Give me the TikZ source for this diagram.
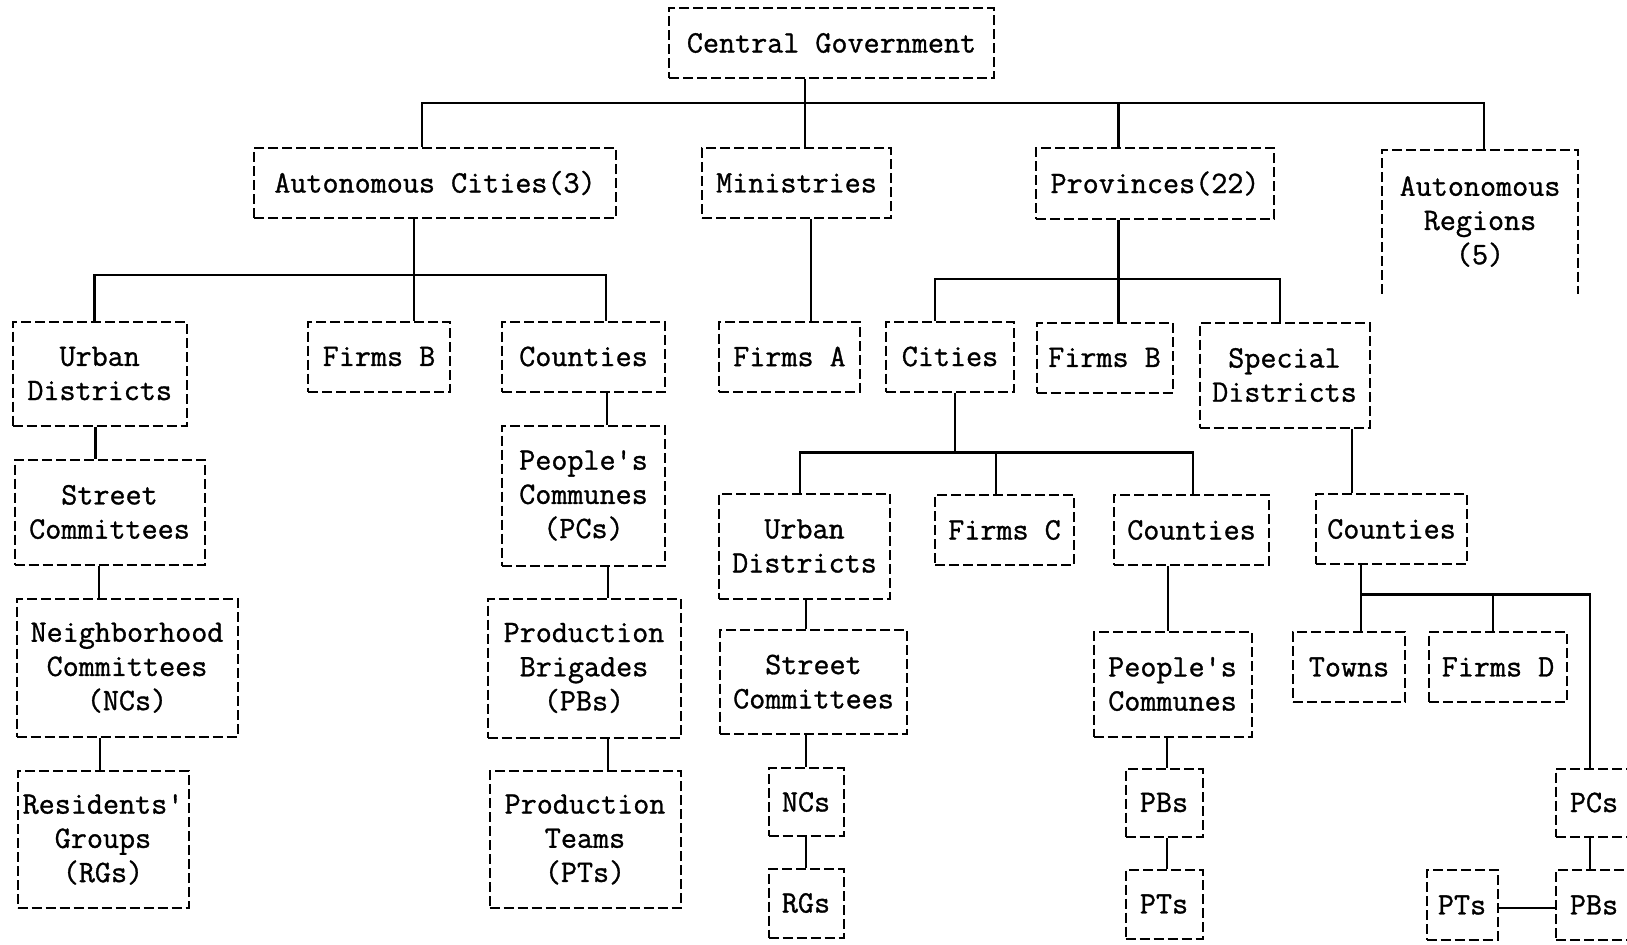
\documentclass[tikz,border=0pt]{standalone}
\usepackage{fontspec}
\setmonofont[FakeBold=1]{Latin Modern Mono}
\begin{document}
\begin{tikzpicture}[x=0.5pt,y=-0.5pt,
  dashline/.style={line width=1pt, dash pattern=on 5pt off 2pt},
  box/.style={draw, dashline, inner sep=0pt,
    align=center, font=\fontsize{15.6}{17.1}\selectfont\ttfamily},
  bw/.style={minimum width=#1*0.5pt},
  bh/.style={minimum height=#1*0.5pt},
  link/.style={line width=1.1pt},
]
\useasboundingbox (0,0) rectangle (1627,944);
\fill[white] (0,0) rectangle (1627,944);
\clip (0,0) rectangle (1627,944);

% level 0 and 1
\node[box,bw=325,bh=70] (cg) at (831.5,43) {Central Government};
\node[box,bw=362,bh=70] (ac) at (435,183) {Autonomous Cities(3)};
\node[box,bw=189,bh=70] (min) at (796.5,183) {Ministries};
\node[box,bw=238,bh=71] (prov) at (1155,183.5) {Provinces(22)};
\node[box,draw=none,bw=194,bh=142] (ar) at (1480,221.5) {Autonomous\\Regions\\(5)};
\draw[dashline] (ar.south west) -- (ar.north west) -- (ar.north east) -- (ar.south east);

% level 2
\node[box,bw=174,bh=104] (udA) at (99.7,373.5) {Urban\\Districts};
\node[box,bw=142,bh=70] (fbA) at (379,356.5) {Firms B};
\node[box,bw=163,bh=70] (coA) at (583.5,356.5) {Counties};
\node[box,bw=141,bh=70] (fa) at (789.5,356.5) {Firms A};
\node[box,bw=128,bh=70] (ci) at (950,356.5) {Cities};
\node[box,bw=136,bh=70] (fbB) at (1104.5,357.5) {Firms B};
\node[box,bw=170,bh=105] (sd) at (1284.5,375) {Special\\Districts};

% level 3
\node[box,bw=190,bh=105] (scA) at (109.5,512) {Street\\Committees};
\node[box,bw=163,bh=140] (pcA) at (583.5,495.5) {People's\\Communes\\(PCs)};
\node[box,bw=171,bh=105] (udB) at (804.5,546) {Urban\\Districts};
\node[box,bw=139,bh=70] (fc) at (1004.5,530) {Firms C};
\node[box,bw=155,bh=70] (coB) at (1191.5,530) {Counties};
\node[box,bw=151,bh=70] (coC) at (1391.5,529) {Counties};

% level 4
\node[box,bw=221,bh=138] (ncA) at (127,667.7) {Neighborhood\\Committees\\(NCs)};
\node[box,bw=193,bh=139] (pbA) at (584,668) {Production\\Brigades\\(PBs)};
\node[box,bw=187,bh=104] (scB) at (813.5,681.7) {Street\\Committees};
\node[box,bw=158,bh=105] (pcB) at (1172.5,684) {People's\\Communes};
\node[box,bw=112,bh=70] (tw) at (1349,667) {Towns};
\node[box,bw=138,bh=70] (fd) at (1498,667) {Firms D};

% level 5 and 6
\node[box,bw=171,bh=137] (rgA) at (103,839.5) {Residents'\\Groups\\(RGs)};
\node[box,bw=191,bh=137] (ptA) at (585,839.5) {Production\\Teams\\(PTs)};
\node[box,bw=75,bh=68] (ncB) at (806,802) {NCs};
\node[box,bw=77,bh=68] (pbB) at (1164,802.5) {PBs};
\node[box,bw=76,bh=68] (pcC) at (1594,802.5) {PCs};
\node[box,bw=75,bh=69] (rgB) at (806,903) {RGs};
\node[box,bw=77,bh=69] (ptB) at (1164,904) {PTs};
\node[box,bw=71,bh=70] (ptC) at (1462,905) {PTs};
\node[box,bw=76,bh=70] (pbC) at (1594,905) {PBs};

% connectors from the centre
\draw[link] (cg.south -| 805,0) -- (min.north -| 805,0);
\draw[link] (ac.north -| 422,0) -- (422,103) -- (1484,103) -- (ar.north -| 1484,0);
\draw[link] (prov.north -| 1118.5,0) -- (1118.5,103);

% autonomous cities
\draw[link] (ac.south -| 414,0) -- (fbA.north -| 414,0);
\draw[link] (udA.north -| 94.4,0) -- (94.4,275) -- (606,275) -- (coA.north -| 606,0);
\draw[link] (udA.south -| 95.5,0) -- (scA.north -| 95.5,0);
\draw[link] (scA.south -| 98.6,0) -- (ncA.north -| 98.6,0);
\draw[link] (ncA.south -| 99.6,0) -- (rgA.north -| 99.6,0);
\draw[link] (coA.south -| 607,0) -- (pcA.north -| 607,0);
\draw[link] (pcA.south -| 608,0) -- (pbA.north -| 608,0);
\draw[link] (pbA.south -| 608,0) -- (ptA.north -| 608,0);

% ministries
\draw[link] (min.south -| 811,0) -- (fa.north -| 811,0);

% provinces
\draw[link] (prov.south -| 1118.5,0) -- (fbB.north -| 1118.5,0);
\draw[link] (ci.north -| 935,0) -- (935,279) -- (1280,279) -- (sd.north -| 1280,0);
\draw[link] (ci.south -| 954.6,0) -- (954.6,452.4);
\draw[link] (udB.north -| 800,0) -- (800,452.4) -- (1193,452.4) -- (coB.north -| 1193,0);
\draw[link] (fc.north -| 996,0) -- (996,452.4);
\draw[link] (udB.south -| 806,0) -- (scB.north -| 806,0);
\draw[link] (scB.south -| 806,0) -- (ncB.north -| 806,0);
\draw[link] (ncB.south -| 806,0) -- (rgB.north -| 806,0);
\draw[link] (coB.south -| 1168,0) -- (pcB.north -| 1168,0);
\draw[link] (pcB.south -| 1167,0) -- (pbB.north -| 1167,0);
\draw[link] (pbB.south -| 1167,0) -- (ptB.north -| 1167,0);

% special districts
\draw[link] (sd.south -| 1352,0) -- (coC.north -| 1352,0);
\draw[link] (coC.south -| 1361,0) -- (tw.north -| 1361,0);
\draw[link] (1361,594.5) -- (1589.6,594.5) -- (pcC.north -| 1589.6,0);
\draw[link] (fd.north -| 1493,0) -- (1493,594.5);
\draw[link] (pcC.south -| 1589.6,0) -- (pbC.north -| 1589.6,0);
\draw[link] (ptC.east |- 0,908) -- (pbC.west |- 0,908);
\end{tikzpicture}
\end{document}
